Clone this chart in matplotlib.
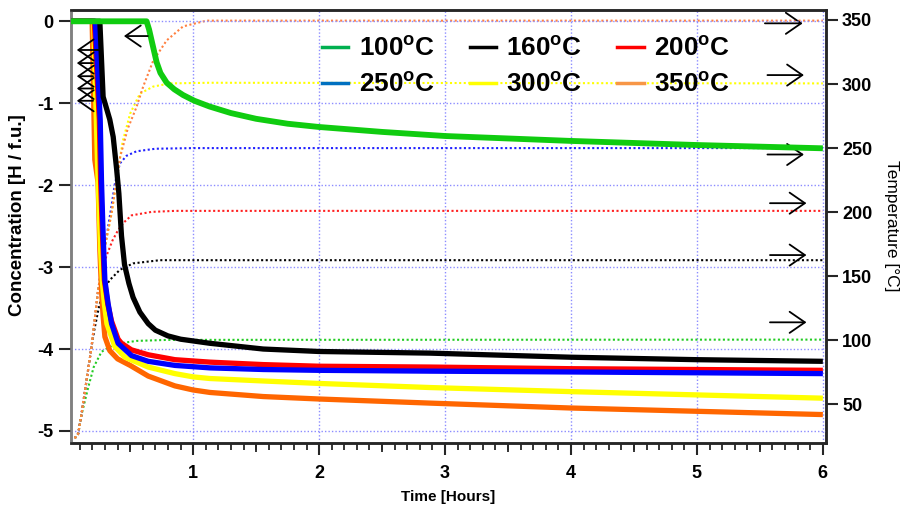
import matplotlib
matplotlib.use("Agg")
import matplotlib.pyplot as plt
from matplotlib.lines import Line2D
from matplotlib.ticker import MultipleLocator, FixedLocator

# ---------------- data ----------------
labels = ["100", "160", "200", "250", "300", "350"]

# concentration [H / f.u.] vs time [h]
t_c100 = [0.03, 0.63, 0.65, 0.68, 0.71, 0.74, 0.79, 0.85, 0.92, 1.01, 1.13, 1.3, 1.5, 1.75, 2.0,
          2.5, 3.0, 4.0, 5.0, 6.0]
c_c100 = [0, 0, -0.10, -0.30, -0.50, -0.63, -0.75, -0.83, -0.90, -0.97, -1.04, -1.12, -1.19, -1.25,
          -1.29, -1.35, -1.40, -1.46, -1.51, -1.55]

t_c160 = [0.03, 0.259, 0.285, 0.338, 0.365, 0.392, 0.41, 0.431, 0.455, 0.49, 0.523, 0.577, 0.643, 0.70,
          0.80, 0.90, 1.133, 1.556, 2.0, 2.88, 4.0, 5.0, 6.0]
c_c160 = [0, 0, -0.92, -1.2, -1.41, -1.8, -2.1, -2.62, -2.97, -3.2, -3.37, -3.55, -3.69, -3.77,
          -3.84, -3.88, -3.93, -4.0, -4.03, -4.05, -4.10, -4.13, -4.15]

t_c200 = [0.03, 0.215, 0.255, 0.265, 0.28, 0.295, 0.322, 0.352, 0.404, 0.431, 0.51, 0.643, 0.855,
          1.133, 1.556, 2.0, 2.88, 4.0, 5.0, 6.0]
c_c200 = [0, 0, -1.2, -1.94, -2.6, -3.16, -3.45, -3.66, -3.88, -3.93, -4.01, -4.07, -4.13,
          -4.16, -4.19, -4.21, -4.22, -4.24, -4.25, -4.26]

t_c250 = [0.03, 0.222, 0.262, 0.272, 0.285, 0.299, 0.325, 0.352, 0.404, 0.51, 0.643, 0.855,
          1.133, 1.556, 2.0, 2.88, 4.0, 5.0, 6.0]
c_c250 = [0, 0, -1.2, -1.94, -2.6, -3.16, -3.45, -3.69, -3.93, -4.08, -4.15, -4.20,
          -4.23, -4.25, -4.26, -4.27, -4.28, -4.29, -4.30]

t_c300 = [0.03, 0.21, 0.24, 0.265, 0.28, 0.295, 0.315, 0.378, 0.458, 0.643, 0.855, 1.0, 1.133,
          1.556, 2.0, 2.88, 4.0, 5.0, 6.0]
c_c300 = [0, 0, -1.7, -2.79, -3.2, -3.45, -3.69, -3.97, -4.10, -4.22, -4.30, -4.34, -4.36,
          -4.39, -4.42, -4.47, -4.52, -4.56, -4.60]

t_c350 = [0.03, 0.198, 0.219, 0.245, 0.259, 0.272, 0.285, 0.299, 0.338, 0.40, 0.5, 0.643, 0.855,
          1.0, 1.133, 1.556, 2.0, 2.88, 4.0, 5.0, 6.0]
c_c350 = [0, 0, -1.69, -1.97, -2.79, -3.28, -3.6, -3.85, -4.02, -4.12, -4.2, -4.33, -4.45,
          -4.5, -4.53, -4.58, -4.61, -4.66, -4.72, -4.76, -4.80]

# temperature [°C] vs time [h]
t_T100 = [0.06, 0.087, 0.114, 0.166, 0.21, 0.272, 0.378, 0.55, 0.8, 6.0]
T_T100 = [23.5, 27, 42, 63, 79, 91, 97, 99.5, 100.3, 100.5]

t_T160 = [0.06, 0.087, 0.114, 0.193, 0.215, 0.25, 0.285, 0.338, 0.418, 0.523, 0.735, 6.0]
T_T160 = [23.5, 27, 42.7, 94.8, 108, 125, 139, 147, 155, 160, 162.5, 162.5]

t_T200 = [0.06, 0.087, 0.114, 0.193, 0.245, 0.27, 0.312, 0.36, 0.404, 0.45, 0.511, 0.669, 0.855, 6.0]
T_T200 = [23.5, 27, 42.7, 94.8, 139, 152, 166, 178, 186, 192, 197.5, 200.2, 201, 201]

t_T250 = [0.06, 0.087, 0.114, 0.193, 0.245, 0.299, 0.352, 0.378, 0.418, 0.471, 0.55, 0.7, 1.0, 6.0]
T_T250 = [23.5, 27, 42.7, 94.8, 139, 173, 205, 222, 238, 244, 247.5, 249.5, 250, 250]

t_T300 = [0.06, 0.087, 0.114, 0.193, 0.245, 0.299, 0.352, 0.392, 0.44, 0.5, 0.577, 0.682, 0.815, 1.13, 6.0]
T_T300 = [23.5, 27, 42.7, 94.8, 139, 173, 199, 225, 255, 277, 292.5, 298, 300.5, 301, 300.5]

t_T350 = [0.06, 0.087, 0.114, 0.193, 0.245, 0.299, 0.352, 0.392, 0.42, 0.48, 0.55, 0.603, 0.682,
          0.789, 0.92, 1.107, 6.0]
T_T350 = [23.5, 27, 42.7, 94.8, 139, 173, 199, 225, 243, 265, 282, 298, 318, 334, 345, 349.5, 349.5]

x_ticks = [1, 2, 3, 4, 5, 6]
c_ticks = [0, -1, -2, -3, -4, -5]
T_ticks = [50, 100, 150, 200, 250, 300, 350]

# annotation arrows
left_arrow_levels = [-0.35, -0.51, -0.67, -0.82, -0.97]
left_arrow_tails = [0.275, 0.205, 0.205, 0.205, 0.205]
left_arrow_tip = 0.076
green_arrow = (0.45, 0.64, -0.18)
right_arrow_levels = [347.4, 307, 245, 207, 166.5, 114]
right_arrow_tails = [5.54, 5.56, 5.56, 5.58, 5.58, 5.58]
right_arrow_tips = [5.84, 5.85, 5.85, 5.87, 5.87, 5.87]

# ---------------- style ----------------
plt.rcParams['mathtext.fontset'] = 'custom'
plt.rcParams['mathtext.rm'] = 'Liberation Sans'
plt.rcParams['mathtext.bf'] = 'Liberation Sans:bold'

solid_colors = ['#10cc10', '#000000', '#ff0000', '#0000ff', '#ffff00', '#ff6600']
dot_colors = ['#22cc22', '#000000', '#ff2020', '#2020ff', '#ffff00', '#ff8040']
legend_colors = ['#00b050', '#000000', '#ff0000', '#0070c0', '#ffff00', '#f79646']

tickfont = dict(family=['Liberation Sans Narrow', 'Liberation Sans', 'DejaVu Sans'],
                weight='bold', size=13)
dark = '#262626'

fig = plt.figure(figsize=(9.04, 5.08), dpi=100)
axT = fig.add_axes([71 / 904, 1 - 443 / 508, (826 - 71) / 904, (443 - 10) / 508])
axC = axT.twinx()

axT.set_xlim(0.03, 6.025)
axC.set_ylim(-5.147, 0.138)
axT.set_ylim(19.8, 357.8)

# temperature (dotted) on axT
dot_ls = (0, (1.0, 1.2))
for t, T, col in zip([t_T100, t_T160, t_T200, t_T250, t_T300, t_T350],
                     [T_T100, T_T160, T_T200, T_T250, T_T300, T_T350], dot_colors):
    axT.plot(t, T, color=col, lw=1.5, ls=dot_ls, zorder=3)

# concentration (solid) on axC
order = [5, 4, 2, 3, 1, 0]
ts = [t_c100, t_c160, t_c200, t_c250, t_c300, t_c350]
cs = [c_c100, c_c160, c_c200, c_c250, c_c300, c_c350]
for i in order:
    axC.plot(ts[i], cs[i], color=solid_colors[i], lw=4.2 if i == 0 else 3.8,
             solid_capstyle='butt', solid_joinstyle='round', zorder=4)

# grid
grid_kw = dict(color='#8c8cff', lw=1.0, ls=(0, (1, 1.5)))
axT.xaxis.set_major_locator(FixedLocator(x_ticks))
axT.grid(axis='x', **grid_kw)
axC.yaxis.set_major_locator(FixedLocator(c_ticks))
axC.grid(axis='y', **grid_kw)
axC.set_axisbelow(True)

# ticks
axT.xaxis.set_minor_locator(MultipleLocator(0.1))
axT.tick_params(axis='x', which='major', direction='out', length=8.6, width=1.5, color=dark, pad=7)
axT.tick_params(axis='x', which='minor', direction='out', length=5, width=1.3, color=dark)
axT.set_xticklabels([str(v) for v in x_ticks], fontdict=tickfont)

sec = axT.secondary_xaxis('bottom')
sec.set_xticks([0.5, 1.5, 2.5, 3.5, 4.5, 5.5])
sec.tick_params(axis='x', direction='out', length=6.7, width=1.3, color=dark, labelbottom=False)
sec.spines['bottom'].set_visible(False)

axT.yaxis.tick_right()
axT.yaxis.set_major_locator(FixedLocator(T_ticks))
axT.tick_params(axis='y', which='both', direction='out', length=8.6, width=1.5, color=dark, pad=3,
                left=False, labelleft=False, right=True, labelright=True)
axT.set_yticklabels([str(v) for v in T_ticks], fontdict=tickfont)

axC.yaxis.tick_left()
axC.tick_params(axis='y', direction='out', length=8.6, width=1.5, color=dark, pad=4,
                right=False, labelright=False, left=True, labelleft=True)
axC.set_yticklabels([str(v) for v in c_ticks], fontdict=tickfont)

for ax in (axT, axC):
    for s in ['top', 'bottom', 'right']:
        ax.spines[s].set_color(dark)
        ax.spines[s].set_linewidth(1.8)
    ax.spines['left'].set_color('#808080')
    ax.spines['left'].set_linewidth(1.8)

# axis labels
axT.set_xlabel('Time [Hours]', family='Liberation Sans', weight='bold', size=11, labelpad=6)
fig.text(18 / 904, 1 - 215 / 508, 'Concentration [H / f.u.]', family='Liberation Sans',
         weight='bold', size=13.5, rotation=90, ha='center', va='center')
fig.text(892 / 904, 1 - 226 / 508, 'Temperature [°C]', family='Liberation Sans', size=12.5,
         rotation=270, ha='center', va='center')

# arrows
aprops = dict(arrowstyle='->,head_length=0.55,head_width=0.38', color='black', lw=1.3,
              mutation_scale=20, shrinkA=0, shrinkB=0)
for lvl, tail in zip(left_arrow_levels, left_arrow_tails):
    axC.annotate('', xy=(left_arrow_tip, lvl), xytext=(tail, lvl), arrowprops=aprops, zorder=5)
axC.annotate('', xy=(green_arrow[0], green_arrow[2]), xytext=(green_arrow[1], green_arrow[2]),
             arrowprops=aprops, zorder=5)
for lvl, tail, tip in zip(right_arrow_levels, right_arrow_tails, right_arrow_tips):
    axT.annotate('', xy=(tip, lvl), xytext=(tail, lvl), arrowprops=aprops, zorder=5)

# legend (row-major order 100,160,200 / 250,300,350)
handles = [Line2D([], [], color=c, lw=2.5) for c in legend_colors]
names = [lab + r'$^{\mathbf{o}}$C' for lab in labels]
idx = [0, 3, 1, 4, 2, 5]
leg = axC.legend([handles[i] for i in idx], [names[i] for i in idx], ncol=3,
                 loc='upper left', bbox_to_anchor=(322 / 904, 1 - 36 / 508),
                 bbox_transform=fig.transFigure, frameon=False,
                 prop=dict(family='Liberation Sans', weight='bold', size=18.8),
                 handlelength=1.0, handletextpad=0.4, columnspacing=1.35,
                 labelspacing=0.45, borderpad=0, borderaxespad=0)

fig.savefig('out.png', dpi=100)
